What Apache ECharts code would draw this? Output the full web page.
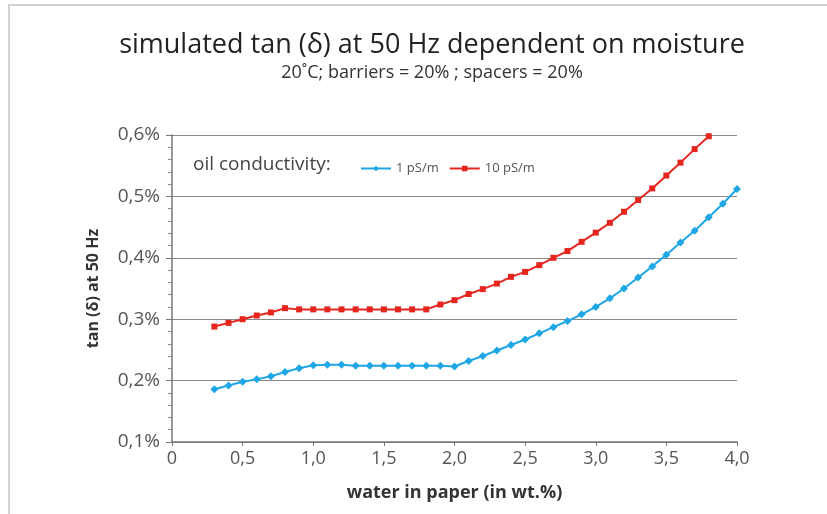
<!DOCTYPE html>
<html>
<head>
<meta charset="utf-8">
<script src="https://cdn.jsdelivr.net/npm/echarts@6/dist/echarts.min.js"></script>
<style>
html,body{margin:0;padding:0;background:#fff;}
#chart{width:827px;height:514px;}
</style>
</head>
<body>
<div id="chart"></div>
<script>
const titleText = 'simulated tan (δ) at 50 Hz dependent on moisture';
const subtitleText = '20˚C; barriers = 20% ; spacers = 20%';
const legendTitle = 'oil conductivity:';
const seriesNames = ['1 pS/m', '10 pS/m'];
const xLabelName = 'water in paper (in wt.%)';
const yLabelName = 'tan (δ) at 50 Hz';

const waterBlue = [0.3,0.4,0.5,0.6,0.7,0.8,0.9,1.0,1.1,1.2,1.3,1.4,1.5,1.6,1.7,1.8,1.9,2.0,2.1,2.2,2.3,2.4,2.5,2.6,2.7,2.8,2.9,3.0,3.1,3.2,3.3,3.4,3.5,3.6,3.7,3.8,3.9,4.0];
const tanBlue = [0.186,0.192,0.198,0.202,0.207,0.214,0.220,0.225,0.226,0.226,0.224,0.224,0.224,0.224,0.224,0.224,0.224,0.223,0.232,0.240,0.249,0.258,0.267,0.277,0.287,0.297,0.308,0.320,0.334,0.350,0.368,0.386,0.405,0.425,0.444,0.466,0.488,0.512];

const waterRed = [0.3,0.4,0.5,0.6,0.7,0.8,0.9,1.0,1.1,1.2,1.3,1.4,1.5,1.6,1.7,1.8,1.9,2.0,2.1,2.2,2.3,2.4,2.5,2.6,2.7,2.8,2.9,3.0,3.1,3.2,3.3,3.4,3.5,3.6,3.7,3.8];
const tanRed = [0.288,0.294,0.300,0.306,0.311,0.318,0.316,0.316,0.316,0.316,0.316,0.316,0.316,0.316,0.316,0.316,0.324,0.331,0.341,0.349,0.358,0.369,0.377,0.388,0.400,0.411,0.426,0.441,0.457,0.475,0.494,0.513,0.534,0.555,0.577,0.598];

const FONT = '"Open Sans", "Noto Sans", sans-serif';
const BLUE = '#1ea6e6';
const RED = '#e5261f';

const chart = echarts.init(document.getElementById('chart'), null, {renderer: 'canvas'});
const pairs = (xs, ys) => xs.map((x, i) => [x, ys[i]]);

chart.setOption({
  animation: false,
  backgroundColor: '#fff',
  textStyle: {fontFamily: FONT},
  title: {
    text: titleText,
    subtext: subtitleText,
    left: 427,
    textAlign: 'center',
    top: 27,
    itemGap: 5,
    textStyle: {fontFamily: FONT, fontSize: 27, fontWeight: 'normal', color: '#222'},
    subtextStyle: {fontFamily: FONT, fontSize: 18, color: '#333'}
  },
  graphic: [
    {type: 'rect', shape: {x: 9, y: 5, width: 900, height: 600}, style: {fill: 'none', stroke: '#d2d2d2', lineWidth: 2}, silent: true, z: -10},
    {type: 'text', left: 193, top: 155, style: {text: legendTitle, font: '19px ' + FONT, fill: '#444'}}
  ],
  legend: {
    left: 355, top: 157,
    itemWidth: 30, itemHeight: 7, itemGap: 10,
    textStyle: {fontFamily: FONT, fontSize: 13, color: '#555'},
    data: seriesNames
  },
  grid: {left: 172, right: 90, top: 135, bottom: 72, containLabel: false},
  xAxis: {
    type: 'value', min: 0, max: 4, interval: 0.5,
    name: xLabelName, nameLocation: 'middle', nameGap: 42,
    nameTextStyle: {fontFamily: FONT, fontSize: 18, fontWeight: 'bold', color: '#333'},
    axisLine: {lineStyle: {color: '#777', width: 1.5}},
    axisTick: {show: true, length: 4, lineStyle: {color: '#777'}},
    splitLine: {show: false},
    axisLabel: {fontSize: 18, color: '#555', margin: 8, fontFamily: FONT,
      formatter: v => v === 0 ? '0' : v.toFixed(1).replace('.', ',')}
  },
  yAxis: {
    type: 'value', min: 0.1, max: 0.6, interval: 0.1,
    name: yLabelName, nameLocation: 'middle', nameGap: 71,
    nameTextStyle: {fontFamily: FONT, fontSize: 16, fontWeight: 'bold', color: '#333'},
    axisLine: {show: true, lineStyle: {color: '#777', width: 1.5}},
    axisTick: {show: true, length: 6, lineStyle: {color: '#777'}},
    minorTick: {show: true, splitNumber: 5, length: 4, lineStyle: {color: '#888'}},
    splitLine: {show: true, lineStyle: {color: '#888', width: 1.2}},
    axisLabel: {fontSize: 19, color: '#555', margin: 12, fontFamily: FONT,
      formatter: v => v.toFixed(1).replace('.', ',') + '%'}
  },
  series: [
    {
      name: seriesNames[0], type: 'line', data: pairs(waterBlue, tanBlue),
      symbol: 'diamond', symbolSize: 8, showAllSymbol: true,
      lineStyle: {color: BLUE, width: 2}, itemStyle: {color: BLUE}
    },
    {
      name: seriesNames[1], type: 'line', data: pairs(waterRed, tanRed),
      symbol: 'rect', symbolSize: 6, showAllSymbol: true,
      lineStyle: {color: RED, width: 2}, itemStyle: {color: RED}
    }
  ]
});
</script>
</body>
</html>
